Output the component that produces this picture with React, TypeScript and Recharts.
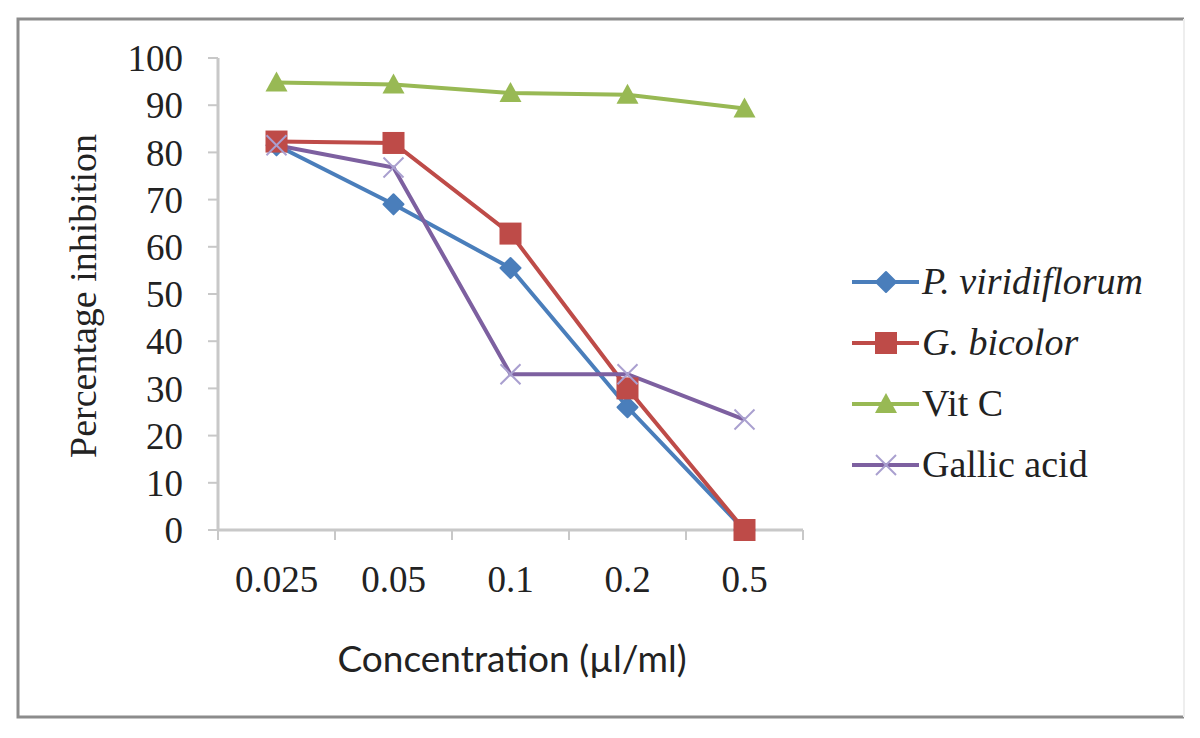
import { LineChart, Line, XAxis, YAxis } from "recharts";

const categories = ["0.025", "0.05", "0.1", "0.2", "0.5"];
const pViridiflorum = [81.5, 69, 55.5, 26, 0];
const gBicolor = [82.3, 82, 62.8, 30, 0];
const vitC = [94.8, 94.4, 92.6, 92.2, 89.3];
const gallicAcid = [81.5, 76.8, 33, 33, 23.4];
const yTicks = [0, 10, 20, 30, 40, 50, 60, 70, 80, 90, 100];
const xTicks = [0, 0.5, 1, 1.5, 2, 2.5, 3, 3.5, 4, 4.5, 5];

const chartData = categories.map((c, i) => ({
  pos: i + 0.5,
  label: c,
  pv: pViridiflorum[i],
  gb: gBicolor[i],
  vc: vitC[i],
  ga: gallicAcid[i],
}));

const BLUE = "#4a7ebb";
const RED = "#be4b48";
const GREEN = "#98b954";
const PURPLE = "#7d60a0";
const XMARK = "#a99fcf";
const SERIF = "'Liberation Serif', 'Times New Roman', serif";

// marker shapes, fixed size (the r prop from recharts is ignored)
function Diamond({ cx, cy }: any) {
  if (cx == null || cy == null) return null;
  const s = 10;
  return (
    <polygon
      points={`${cx},${cy - s} ${cx + s},${cy} ${cx},${cy + s} ${cx - s},${cy}`}
      fill={BLUE}
      stroke={BLUE}
      strokeWidth={2}
      strokeLinejoin="round"
    />
  );
}

function Square({ cx, cy }: any) {
  if (cx == null || cy == null) return null;
  const s = 11;
  return <rect x={cx - s} y={cy - s} width={s * 2} height={s * 2} fill={RED} />;
}

function Triangle({ cx, cy }: any) {
  if (cx == null || cy == null) return null;
  const s = 11;
  return (
    <polygon
      points={`${cx},${cy - s} ${cx + s},${cy + s - 2} ${cx - s},${cy + s - 2}`}
      fill={GREEN}
    />
  );
}

function Cross({ cx, cy }: any) {
  if (cx == null || cy == null) return null;
  const s = 10;
  return (
    <g stroke={XMARK} strokeWidth={2}>
      <line x1={cx - s} y1={cy - s} x2={cx + s} y2={cy + s} />
      <line x1={cx - s} y1={cy + s} x2={cx + s} y2={cy - s} />
    </g>
  );
}

// integer ticks -> tick marks between categories, half ticks -> category labels
function XTick(props: any) {
  const { x, y, payload } = props;
  const v = payload.value;
  if (Number.isInteger(v)) {
    return <line x1={x} x2={x} y1={y} y2={y + 10} stroke="#c8c8c8" strokeWidth={2} />;
  }
  const label = categories[Math.floor(v)];
  return (
    <text x={x} y={y + 62} textAnchor="middle" fontFamily={SERIF} fontSize={37} fill="#222">
      {label}
    </text>
  );
}

const legendItems = [
  { name: "P. viridiflorum", color: BLUE, italic: true, Mark: Diamond },
  { name: "G. bicolor", color: RED, italic: true, Mark: Square },
  { name: "Vit C", color: GREEN, italic: false, Mark: Triangle },
  { name: "Gallic acid", color: PURPLE, italic: false, Mark: Cross },
];

export default function App() {
  return (
    <div style={{ position: "fixed", left: 0, top: 0, width: 1200, height: 738, background: "#fff" }}>
      <LineChart
        width={1200}
        height={738}
        data={chartData}
        margin={{ top: 58, right: 397, bottom: 0, left: 0 }}
      >
        <XAxis
          dataKey="pos"
          type="number"
          domain={[0, 5]}
          ticks={xTicks}
          interval={0}
          tickLine={false}
          tickSize={0}
          tickMargin={0}
          tick={<XTick />}
          axisLine={{ stroke: "#c8c8c8", strokeWidth: 3 }}
          height={208}
        />
        <YAxis
          domain={[0, 100]}
          ticks={yTicks}
          interval={0}
          width={218}
          tickSize={10}
          tickMargin={25}
          tickLine={{ stroke: "#c8c8c8", strokeWidth: 2 }}
          axisLine={{ stroke: "#c8c8c8", strokeWidth: 3 }}
          tick={{ fontFamily: SERIF, fontSize: 37, fill: "#222" }}
        />
        <Line dataKey="pv" stroke={BLUE} strokeWidth={4} dot={(p: any) => <Diamond key={p.index} cx={p.cx} cy={p.cy} />} isAnimationActive={false} />
        <Line dataKey="gb" stroke={RED} strokeWidth={4} dot={(p: any) => <Square key={p.index} cx={p.cx} cy={p.cy} />} isAnimationActive={false} />
        <Line dataKey="vc" stroke={GREEN} strokeWidth={4} dot={(p: any) => <Triangle key={p.index} cx={p.cx} cy={p.cy} />} isAnimationActive={false} />
        <Line dataKey="ga" stroke={PURPLE} strokeWidth={4} dot={(p: any) => <Cross key={p.index} cx={p.cx} cy={p.cy} />} isAnimationActive={false} />
      </LineChart>

      <svg
        width={1200}
        height={738}
        style={{ position: "absolute", left: 0, top: 0, pointerEvents: "none" }}
      >
        <path d="M1184,19 L18,19 L18,717 L1184,717" fill="none" stroke="#8c8c8c" strokeWidth={3} />
        <line x1={1184} y1={19} x2={1184} y2={717} stroke="#eeeeee" strokeWidth={2} />
        <text
          x={512}
          y={672}
          textAnchor="middle"
          fontFamily="Lato, 'Liberation Sans', sans-serif"
          fontSize={37}
          fill="#222"
        >
          Concentration (µl/ml)
        </text>
        <text
          transform="translate(96,296) rotate(-90)"
          textAnchor="middle"
          fontFamily={SERIF}
          fontSize={38}
          fill="#222"
        >
          Percentage inhibition
        </text>
        {legendItems.map((it, i) => {
          const cy = 282 + i * 61;
          const Mark = it.Mark;
          return (
            <g key={it.name}>
              <line x1={852} x2={919} y1={cy} y2={cy} stroke={it.color} strokeWidth={4} />
              <Mark cx={886} cy={cy} />
              <text
                x={922}
                y={cy + 12}
                fontFamily={SERIF}
                fontSize={38}
                fontStyle={it.italic ? "italic" : "normal"}
                fill="#222"
              >
                {it.name}
              </text>
            </g>
          );
        })}
      </svg>
    </div>
  );
}
